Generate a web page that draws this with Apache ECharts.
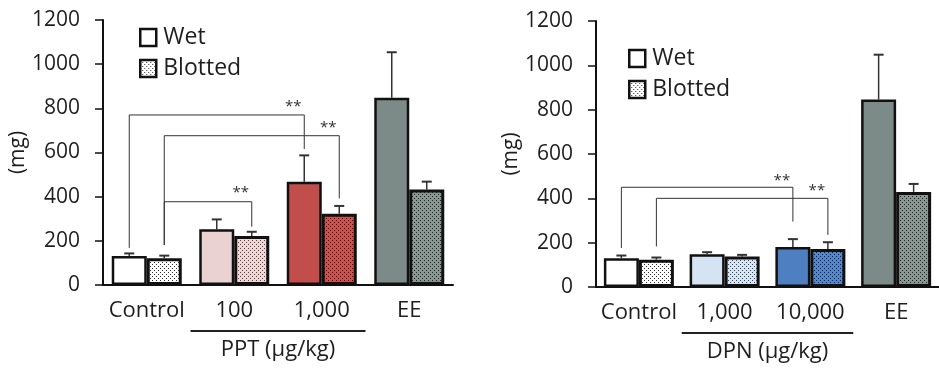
<!DOCTYPE html>
<html>
<head>
<meta charset="utf-8">
<script src="https://cdn.jsdelivr.net/npm/echarts@6/dist/echarts.min.js"></script>
<style>
  html, body { margin: 0; padding: 0; background: #fff; }
  #chart { width: 939px; height: 372px; }
</style>
</head>
<body>
<div id="chart"></div>
<script>
// categories
const pptCats = ['Control', '100', '1,000', 'EE']
const dpnCats = ['Control', '1,000', '10,000', 'EE']

// means and SEM (mg)
const pptWet = [131, 252, 468, 848]
const pptWetSem = [12, 45, 119, 206]
const pptBlotted = [121, 222, 323, 433]
const pptBlottedSem = [12, 19, 35, 35]

const dpnWet = [130, 148, 180, 846]
const dpnWetSem = [12, 9, 36, 202]
const dpnBlotted = [123, 138, 171, 429]
const dpnBlottedSem = [10, 7, 31, 36]

// significance brackets: [fromCat, fromBar, toCat, toBar, fromY, topY, toY, starY]
const pptBrackets = [
  [0, 0, 2, 0, 168, 770, 616, 805],
  [0, 1, 2, 1, 181, 676, 392, 710],
  [0, 1, 1, 1, 181, 377, 264, 418]
]
const dpnBrackets = [
  [0, 0, 2, 0, 176, 450, 295, 478],
  [0, 1, 2, 1, 183, 400, 235, 435]
]

// dose groups under the axis: [fromCat, toCat]
const pptGroup = [1, 2]
const dpnGroup = [1, 2]
const pptGroupLabel = 'PPT (μg/kg)'
const dpnGroupLabel = 'DPN (μg/kg)'

// colours
const pptWetColors = ['#ffffff', '#ead2d2', '#c24e4b', '#7c8b87']
const pptBlottedBg = ['#ffffff', '#ecd6d6', '#c85452', '#899692']
const pptBlottedDot = ['#333333', '#5e4040', '#3a1210', '#1e2523']
const dpnWetColors = ['#ffffff', '#d5e3f2', '#4e80c1', '#7c8b87']
const dpnBlottedBg = ['#ffffff', '#d8e5f3', '#5586c5', '#899692']
const dpnBlottedDot = ['#333333', '#3a4a5e', '#10203e', '#1e2523']

const BAR_W = 35
const FONT = '"Open Sans", "DejaVu Sans", sans-serif'
const INK = '#1e1e1e'

const dotPattern = (bg, dot) => {
  const c = document.createElement('canvas')
  c.width = 4
  c.height = 4
  const ctx = c.getContext('2d')
  ctx.fillStyle = bg
  ctx.fillRect(0, 0, 4, 4)
  ctx.fillStyle = dot
  ctx.fillRect(0, 0, 1, 1)
  ctx.fillRect(2, 2, 1, 1)
  return { image: c, repeat: 'repeat' }
}

const barOffset = (bar) => (bar === 0 ? -BAR_W / 2 : BAR_W / 2)

const barSeries = (name, gi, values, colors, width) => ({
  name,
  type: 'bar',
  xAxisIndex: gi,
  yAxisIndex: gi,
  barWidth: BAR_W,
  barGap: '0%',
  z: 3,
  data: values.map((v, i) => ({
    value: v,
    itemStyle: { color: colors[i], borderColor: '#111', borderWidth: width }
  }))
})

const errorSeries = (gi, bar, values, sems) => ({
  name: 'err',
  type: 'custom',
  xAxisIndex: gi,
  yAxisIndex: gi,
  z: 2,
  silent: true,
  data: values.map((v, i) => [i, v, sems[i]]),
  encode: { x: 0, y: 1 },
  renderItem: (params, api) => {
    const base = api.coord([api.value(0), api.value(1)])
    const top = api.coord([api.value(0), api.value(1) + api.value(2)])
    const x = base[0] + barOffset(bar)
    return {
      type: 'group',
      children: [
        { type: 'line', shape: { x1: x, y1: base[1], x2: x, y2: top[1] },
          style: { stroke: '#333', lineWidth: 1.5 } },
        { type: 'line', shape: { x1: x - 5, y1: top[1], x2: x + 5, y2: top[1] },
          style: { stroke: '#333', lineWidth: 2 } }
      ]
    }
  }
})

const bracketSeries = (gi, rows) => ({
  name: 'sig',
  type: 'custom',
  xAxisIndex: gi,
  yAxisIndex: gi,
  z: 4,
  silent: true,
  data: rows,
  encode: { x: 0, y: 5 },
  renderItem: (params, api) => {
    const x1 = api.coord([api.value(0), 0])[0] + barOffset(api.value(1))
    const x2 = api.coord([api.value(2), 0])[0] + barOffset(api.value(3))
    const y0 = api.coord([0, api.value(4)])[1]
    const yt = api.coord([0, api.value(5)])[1]
    const y1 = api.coord([0, api.value(6)])[1]
    const ys = api.coord([0, api.value(7)])[1]
    return {
      type: 'group',
      children: [
        { type: 'polyline', shape: { points: [[x1, y0], [x1, yt], [x2, yt], [x2, y1]] },
          style: { stroke: '#333', lineWidth: 1, fill: null } },
        { type: 'text', x: x2 - 11, y: ys,
          style: { text: '**', fontSize: 15, fontFamily: FONT, fill: '#333',
                   align: 'center', verticalAlign: 'middle' } }
      ]
    }
  }
})

const groupSeries = (gi, range, label) => ({
  name: 'group',
  type: 'custom',
  xAxisIndex: gi,
  yAxisIndex: gi,
  silent: true,
  data: [[range[0], 0, range[1]]],
  encode: { x: 0, y: 1 },
  renderItem: (params, api) => {
    const band = api.size([1, 0])[0]
    const p1 = api.coord([api.value(0), 0])
    const p2 = api.coord([api.value(2), 0])
    const xa = p1[0] - band / 2
    const xb = p2[0] + band / 2
    const y = p1[1] + 46
    return {
      type: 'group',
      children: [
        { type: 'line', shape: { x1: xa, y1: y, x2: xb, y2: y },
          style: { stroke: '#222', lineWidth: 2 } },
        { type: 'text', x: (xa + xb) / 2, y: y + 19,
          style: { text: label, fontSize: 22, fontFamily: FONT, fill: INK,
                   align: 'center', verticalAlign: 'middle' } }
      ]
    }
  }
})

const xAxisOf = (gi, cats) => ({
  type: 'category',
  gridIndex: gi,
  data: cats,
  axisLine: { lineStyle: { color: '#111', width: 2 } },
  axisTick: { length: 10, lineStyle: { color: '#111', width: 1.5 } },
  axisLabel: { interval: 0, fontSize: 22, fontFamily: FONT, color: INK, margin: 15 }
})

const yAxisOf = (gi, gap) => ({
  type: 'value',
  gridIndex: gi,
  min: 0,
  max: 1200,
  interval: 200,
  name: '(mg)',
  nameLocation: 'middle',
  nameRotate: 90,
  nameGap: gap,
  nameTextStyle: { fontSize: 21, fontFamily: FONT, color: INK },
  axisLine: { show: true, lineStyle: { color: '#111', width: 2 } },
  axisTick: { show: true, length: 8, lineStyle: { color: '#111', width: 1.5 } },
  axisLabel: { fontSize: 21, fontFamily: FONT, color: INK, margin: 23, formatter: (v) => String(v) },
  splitLine: { show: false }
})

const legendOf = (left, top) => ({
  left,
  top,
  orient: 'vertical',
  padding: 0,
  itemGap: 8,
  itemWidth: 16,
  itemHeight: 17,
  icon: 'rect',
  selectedMode: false,
  textStyle: { fontSize: 23, fontFamily: FONT, color: INK, padding: [0, 0, 0, 2] },
  data: [
    { name: 'Wet', itemStyle: { color: '#fff', borderColor: '#111', borderWidth: 2.5 } },
    { name: 'Blotted', itemStyle: { color: dotPattern('#ffffff', '#333333'), borderColor: '#111', borderWidth: 2.5 } }
  ]
})

const chart = echarts.init(document.getElementById('chart'), null, { renderer: 'canvas' })

const option = {
  animation: false,
  backgroundColor: '#fff',
  legend: [legendOf(139, 26), legendOf(628, 47)],
  grid: [
    { left: 103, top: 20, width: 350, height: 265 },
    { left: 596, top: 21, width: 349, height: 266 }
  ],
  xAxis: [xAxisOf(0, pptCats), xAxisOf(1, dpnCats)],
  yAxis: [yAxisOf(0, 63), yAxisOf(1, 70)],
  series: [
    barSeries('Wet', 0, pptWet, pptWetColors, 2.5),
    barSeries('Blotted', 0, pptBlotted, pptBlottedBg.map((c, i) => dotPattern(c, pptBlottedDot[i])), 3),
    errorSeries(0, 0, pptWet, pptWetSem),
    errorSeries(0, 1, pptBlotted, pptBlottedSem),
    bracketSeries(0, pptBrackets),
    groupSeries(0, pptGroup, pptGroupLabel),

    barSeries('Wet', 1, dpnWet, dpnWetColors, 2.5),
    barSeries('Blotted', 1, dpnBlotted, dpnBlottedBg.map((c, i) => dotPattern(c, dpnBlottedDot[i])), 3),
    errorSeries(1, 0, dpnWet, dpnWetSem),
    errorSeries(1, 1, dpnBlotted, dpnBlottedSem),
    bracketSeries(1, dpnBrackets),
    groupSeries(1, dpnGroup, dpnGroupLabel)
  ]
}

chart.setOption(option)
</script>
</body>
</html>
